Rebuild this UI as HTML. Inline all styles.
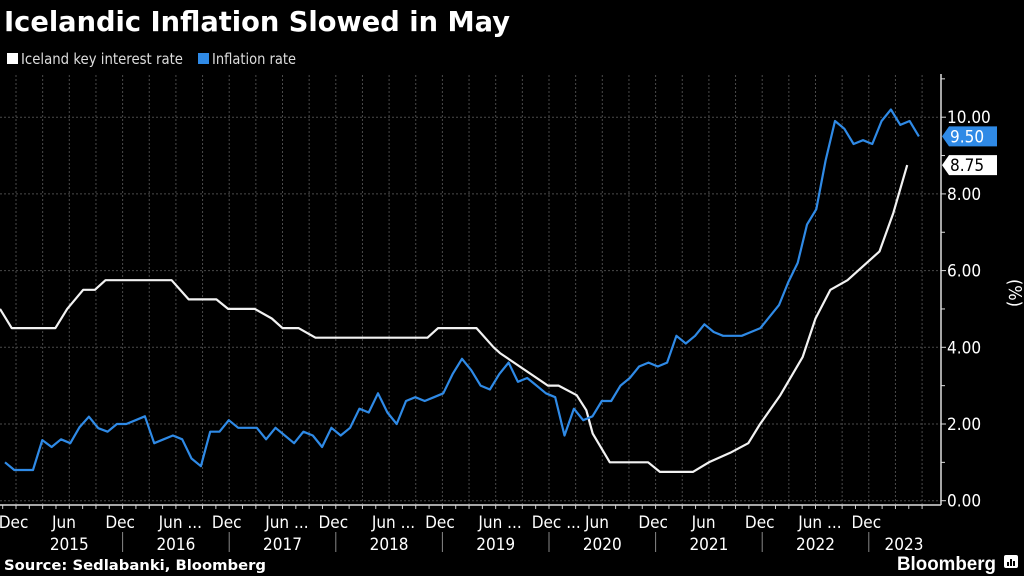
<!DOCTYPE html>
<html><head><meta charset="utf-8">
<style>
html,body{margin:0;padding:0;background:#000;}
svg{display:block;}
text{font-family:"DejaVu Sans Condensed","DejaVu Sans","Liberation Sans",sans-serif;}
</style></head>
<body>
<svg id="chart" width="1024" height="576" viewBox="0 0 1024 576" xmlns="http://www.w3.org/2000/svg">
<rect x="0" y="0" width="1024" height="576" fill="#000"/>
<text x="4" y="31" fill="#fff" font-size="28" font-weight="bold" textLength="506" lengthAdjust="spacingAndGlyphs" style="font-family:'DejaVu Sans','Liberation Sans',sans-serif">Icelandic Inflation Slowed in May</text>
<g>
<g>
<rect x="7" y="53" width="11" height="11" fill="#fff"/>
<text x="21" y="64" fill="#ddd" font-size="15" textLength="162" lengthAdjust="spacingAndGlyphs">Iceland key interest rate</text>
</g>
<g>
<rect x="198" y="53" width="11" height="11" fill="#2f8ae6"/>
<text x="212" y="64" fill="#ddd" font-size="15" textLength="84" lengthAdjust="spacingAndGlyphs">Inflation rate</text>
</g>
</g>
<g id="grid"></g>
<g id="axes"></g>
<g id="series"></g>
<g id="badges"></g>
<text x="4" y="570" fill="#fff" font-size="14" font-weight="bold" style="font-family:'DejaVu Sans','Liberation Sans',sans-serif" textLength="262" lengthAdjust="spacingAndGlyphs">Source: Sedlabanki, Bloomberg</text>
<text x="897" y="570" fill="#fff" font-size="19" font-weight="bold" style="font-family:'Liberation Sans',sans-serif" textLength="99" lengthAdjust="spacingAndGlyphs">Bloomberg</text>
<g>
<rect x="1004" y="555" width="14" height="13" rx="2" fill="#fff"/>
<rect x="1007" y="562" width="2" height="4" fill="#000"/><rect x="1010" y="559" width="2" height="7" fill="#000"/><rect x="1013" y="561" width="2" height="5" fill="#000"/>
</g>
<text x="1009" y="293" fill="#fff" font-size="18" transform="rotate(90 1009 293)" text-anchor="middle">(%)</text>
</svg>
<script>
// ---- data ----
const inflationStart = 2014.897;
const inflationEnd = 2023.47;
const inflationValues = [1.0,0.8,0.8,0.8,1.58,1.4,1.6,1.5,1.92,2.19,1.89,1.8,2.0,2.0,2.1,2.2,1.5,1.6,1.7,1.6,1.1,0.9,1.8,1.8,2.1,1.9,1.9,1.9,1.6,1.9,1.7,1.5,1.8,1.7,1.4,1.9,1.7,1.9,2.4,2.3,2.8,2.3,2.0,2.6,2.7,2.6,2.7,2.8,3.3,3.7,3.4,3.0,2.9,3.3,3.6,3.1,3.2,3.0,2.8,2.7,1.7,2.4,2.1,2.2,2.6,2.6,3.0,3.2,3.5,3.6,3.5,3.6,4.3,4.1,4.3,4.6,4.4,4.3,4.3,4.3,4.4,4.5,4.8,5.1,5.7,6.2,7.2,7.6,8.87,9.9,9.7,9.3,9.4,9.3,9.9,10.2,9.8,9.9,9.5];
const rateDates = [2014.85,2014.96,2015.37,2015.48,2015.63,2015.74,2015.84,2016.46,2016.62,2016.88,2016.99,2017.24,2017.40,2017.50,2017.65,2017.81,2018.86,2018.96,2019.32,2019.48,2019.54,2019.99,2020.09,2020.26,2020.35,2020.41,2020.57,2020.93,2021.04,2021.35,2021.50,2021.70,2021.87,2021.98,2022.17,2022.38,2022.50,2022.64,2022.80,2023.10,2023.23,2023.36];
const rateValues = [5.0,4.5,4.5,5.0,5.5,5.5,5.75,5.75,5.25,5.25,5.0,5.0,4.75,4.5,4.5,4.25,4.25,4.5,4.5,4.0,3.85,3.0,3.0,2.75,2.36,1.75,1.0,1.0,0.75,0.75,1.0,1.25,1.5,2.0,2.75,3.75,4.75,5.5,5.75,6.5,7.5,8.75];
const yTicks = [0,2,4,6,8,10];
const yTickLabels = ["0.00","2.00","4.00","6.00","8.00","10.00"];
const monthLabels = ["Dec","Jun","Dec","Jun ...","Dec","Jun ...","Dec","Jun ...","Dec","Jun ...","Dec ...","Jun","Dec","Jun","Dec","Jun ...","Dec"];
const monthDates = [2014.96,2015.46,2015.96,2016.46,2016.96,2017.46,2017.96,2018.46,2018.96,2019.46,2019.96,2020.46,2020.96,2021.46,2021.96,2022.46,2022.96];
const yearLabels = ["2015","2016","2017","2018","2019","2020","2021","2022","2023"];
const yearCenters = [2015.5,2016.5,2017.5,2018.5,2019.5,2020.5,2021.5,2022.5,2023.33];
const lastInflation = "9.50";
const lastRate = "8.75";

// ---- scales ----
const X0 = 16, PXY = 106.6, Y0 = 500.7, PXV = 38.35, AX = 941;
const x = t => X0 + (t - 2015) * PXY;
const y = v => Y0 - v * PXV;
const NS = "http://www.w3.org/2000/svg";
function mk(tag, attrs, parent){const e=document.createElementNS(NS,tag);for(const k in attrs)e.setAttribute(k,attrs[k]);parent.appendChild(e);return e;}
const grid=document.getElementById('grid'), axes=document.getElementById('axes'), series=document.getElementById('series'), badges=document.getElementById('badges');

yTicks.forEach((v,i)=>{
  const g=mk('line',{x1:0,x2:AX,y1:y(v),y2:y(v),stroke:'#4a4a4a','stroke-dasharray':'2,2','stroke-width':1},grid);
  
  
  const tk=mk('line',{x1:AX,x2:AX+5,y1:y(v),y2:y(v),stroke:'#ddd'},axes);
  
  
  const mt=mk('line',{x1:AX,x2:AX+4,y1:y(v+1),y2:y(v+1),stroke:'#ddd'},axes);
  
  
  const t=mk('text',{x:AX+6,y:y(v)+6,fill:'#fff','font-size':17},axes);
  t.textContent=yTickLabels[i];
  
  
});
for(let q=2015;q<2023.6;q+=0.25){
  const g=mk('line',{x1:x(q),x2:x(q),y1:75,y2:504,stroke:'#4a4a4a','stroke-dasharray':'2,2'},grid);
  
  
}
for(let q=2014.875;q<2023.6;q+=0.125){
  const tk=mk('line',{x1:x(q),x2:x(q),y1:505,y2:509,stroke:'#ccc'},axes);
  
  
}
const xa=mk('line',{x1:0,x2:AX,y1:505,y2:505,stroke:'#ddd','stroke-width':1.5},axes);


const ya=mk('line',{x1:AX,x2:AX,y1:74,y2:505,stroke:'#ddd','stroke-width':1.5},axes);


monthLabels.forEach((s,i)=>{
  const t=mk('text',{x:x(monthDates[i])-13,y:528,fill:'#fff','font-size':17},axes);
  t.textContent=s;
  
  
});
yearLabels.forEach((s,i)=>{
  const t=mk('text',{x:x(yearCenters[i]),y:550,fill:'#fff','font-size':17,'text-anchor':'middle'},axes);
  t.textContent=s;
  
  
  if(i>0){
    const d=mk('line',{x1:x(+s),x2:x(+s),y1:532,y2:552,stroke:'#888'},axes);
    
    
  }
});

const n=inflationValues.length;
const infPts=inflationValues.map((v,i)=>x(inflationStart+(inflationEnd-inflationStart)*i/(n-1)).toFixed(1)+','+y(v).toFixed(1));
const ratePts=rateValues.map((v,i)=>x(rateDates[i]).toFixed(1)+','+y(v).toFixed(1));
const rl=mk('polyline',{points:ratePts.join(' '),fill:'none',stroke:'#f2f2f2','stroke-width':2.2,'stroke-linejoin':'round'},series);


const il=mk('polyline',{points:infPts.join(' '),fill:'none',stroke:'#2f8ae6','stroke-width':2.2,'stroke-linejoin':'round'},series);



function badge(val,fill,txt,name){
  const cy=y(parseFloat(val));
  const g=mk('g',{},badges);
  
  
  mk('polygon',{points:`${AX+1},${cy} ${AX+8},${cy-10} ${AX+56},${cy-10} ${AX+56},${cy+10} ${AX+8},${cy+10}`,fill:fill},g);
  const t=mk('text',{x:AX+9,y:cy+6,fill:txt,'font-size':17},g);
  t.textContent=val;
}
badge(lastInflation,'#2f8ae6','#fff','inflation-value-badge');
badge(lastRate,'#fff','#000','interest-rate-value-badge');
</script>
</body></html>
